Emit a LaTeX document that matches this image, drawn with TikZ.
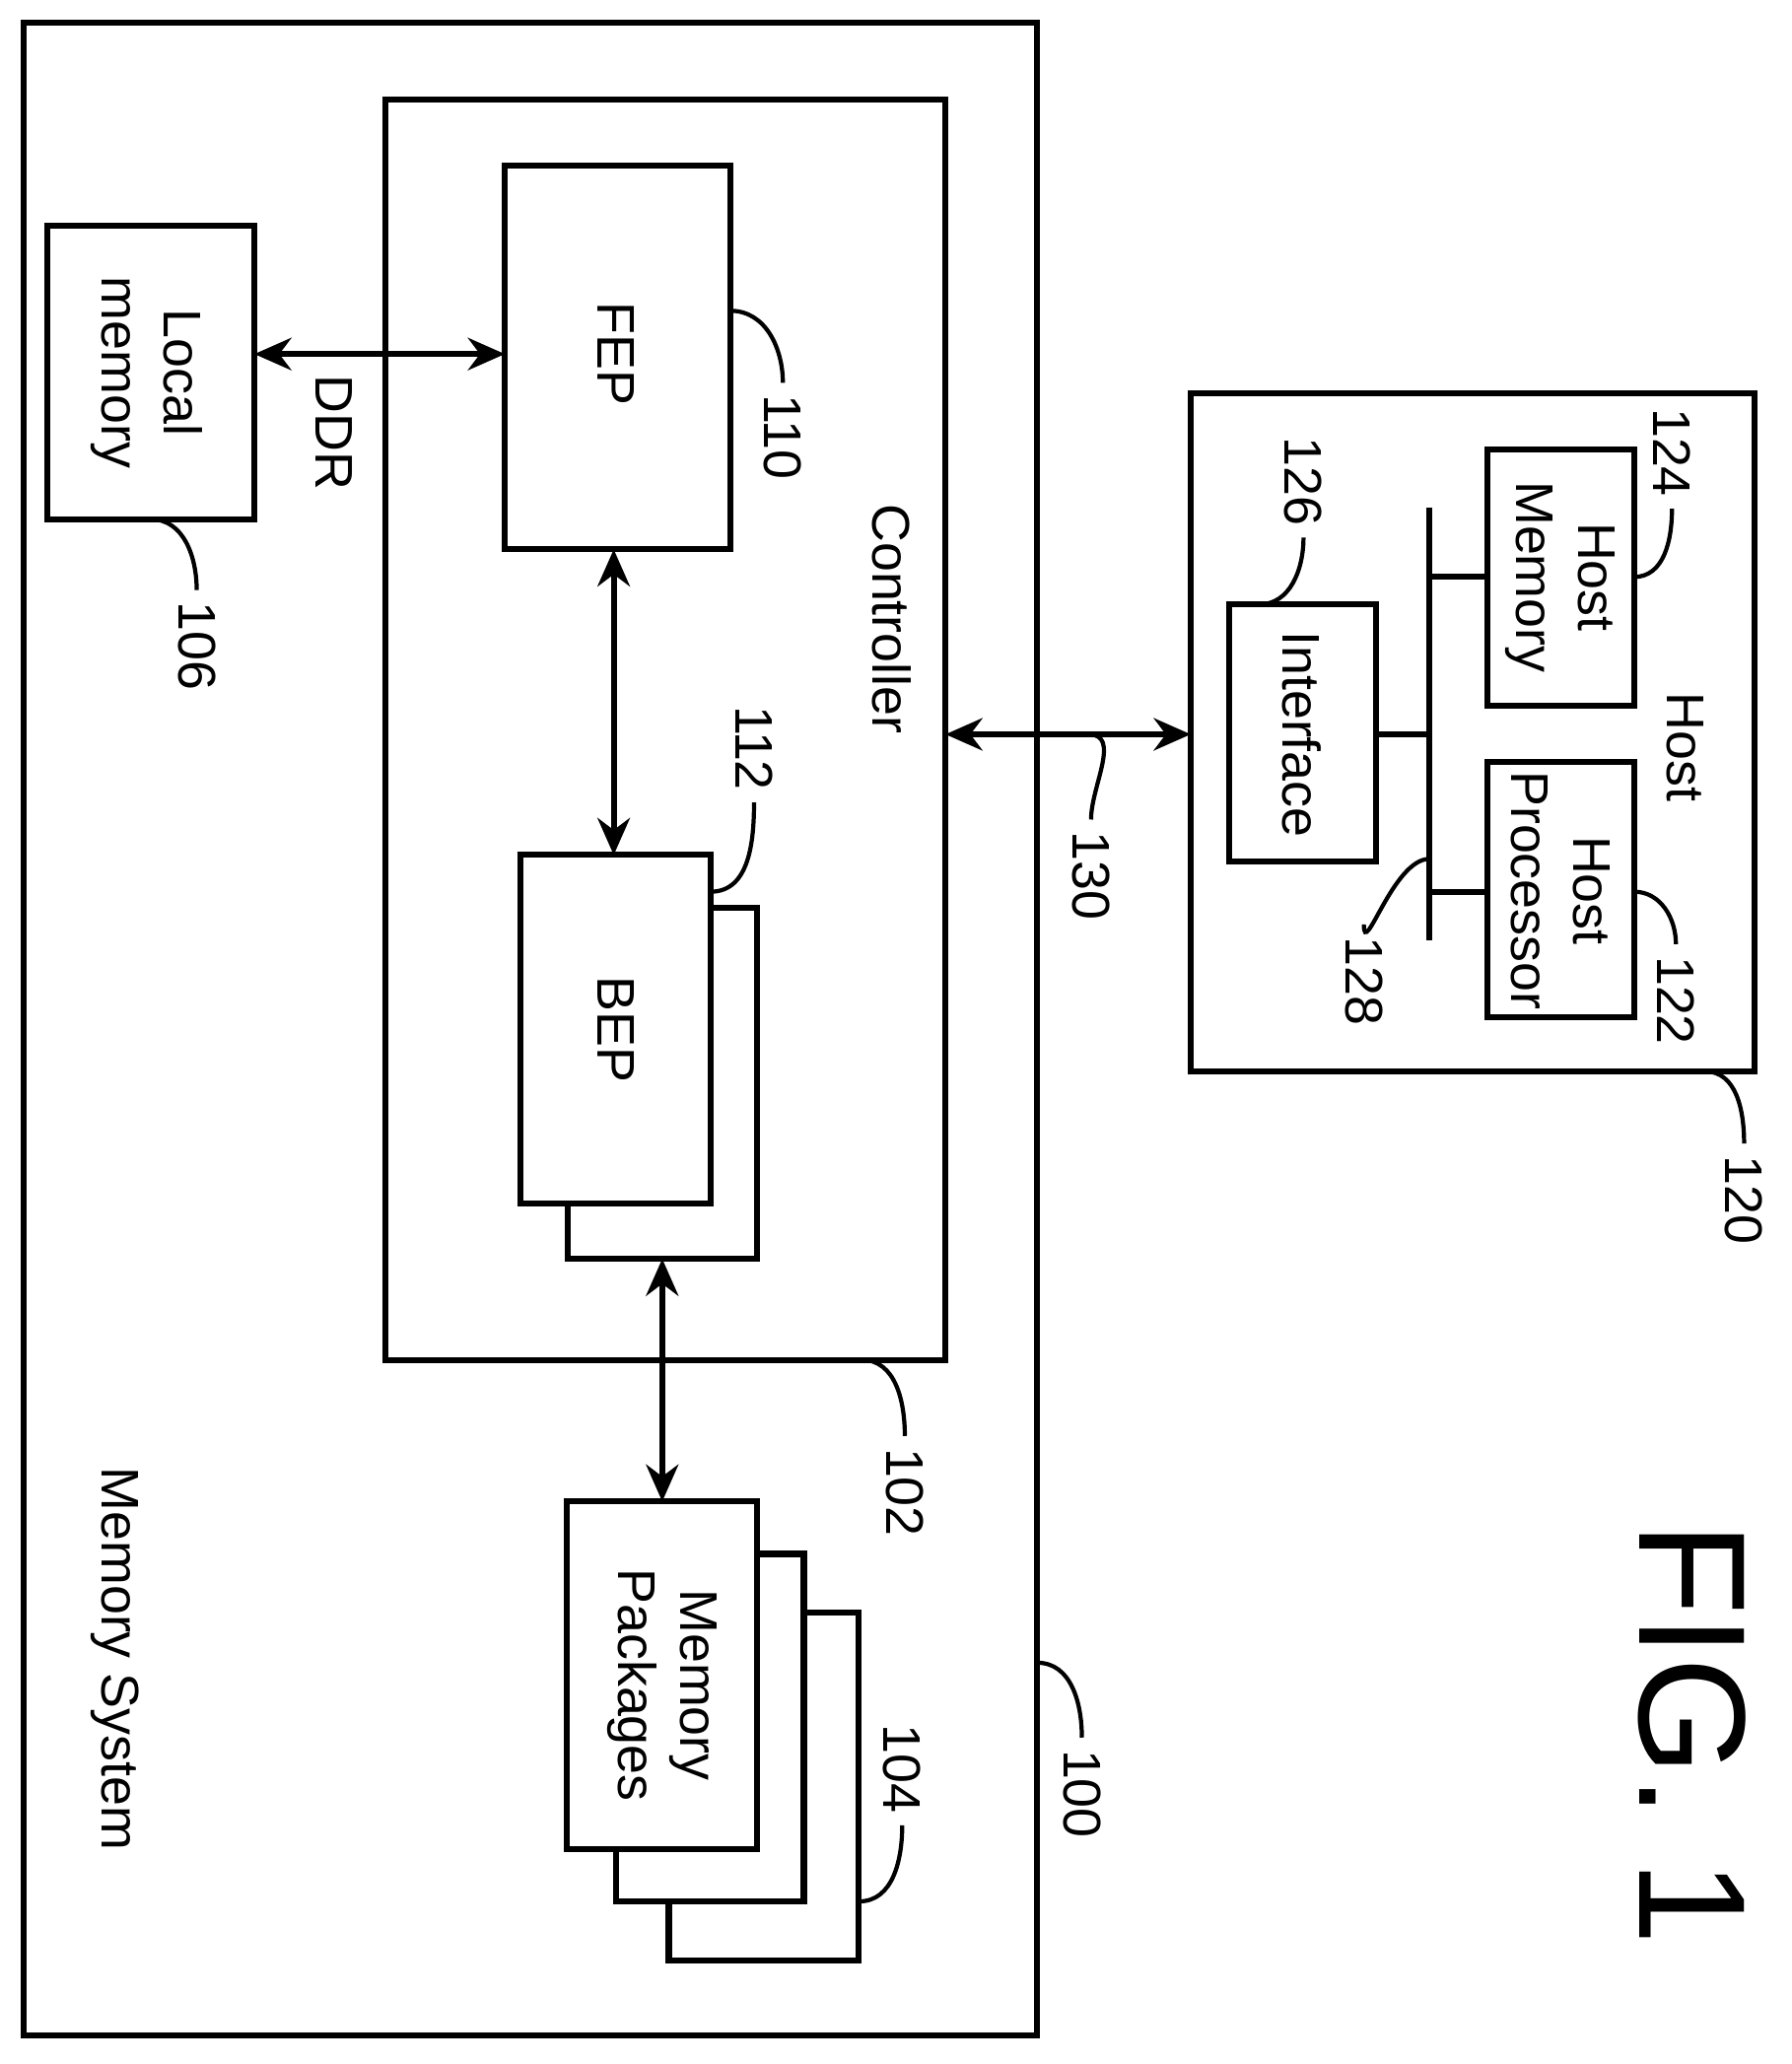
\documentclass[tikz,border=0pt]{standalone}
\usepackage{fontspec}
\setmainfont{Liberation Sans}
\usetikzlibrary{arrows.meta}
\begin{document}
\begin{tikzpicture}[x=0.01cm,y=-0.01cm,
  box/.style={draw,line width=1.3pt,fill=white},
  txt/.style={rotate=-90,align=center,font=\fontsize{11.5}{13.5}\selectfont},
  lab/.style={rotate=-90,anchor=west,inner sep=1pt,font=\fontsize{11.5}{13.5}\selectfont},
  labu/.style={rotate=-90,anchor=east,inner sep=1pt,font=\fontsize{11.5}{13.5}\selectfont},
  lead/.style={line width=0.9pt},
  arr/.style={line width=1.3pt,{Stealth[length=8pt,width=7pt]}-{Stealth[length=8pt,width=7pt]}},
  ln/.style={line width=1.3pt}]
\useasboundingbox (0,0) rectangle (1366,1574);
\draw[box] (18,17) rectangle (791,1552);
\node[txt] (ms) at (88,1265) {Memory System};
\draw[box] (294,76) rectangle (721,1037);
\node[txt] (ctl) at (680,472) {Controller};
\draw[box] (385,126) rectangle (557,419);
\node[txt] (fep) at (470,270) {FEP};
\draw[box] (36,172) rectangle (194,396);
\node[txt] (lm) at (112,284) {Local\\memory};
\draw[box] (433,692) rectangle (577,960);
\draw[box] (397,652) rectangle (542,918);
\node[txt] (bep) at (470,785) {BEP};
\draw[box] (510,1230) rectangle (655,1495);
\draw[box] (470,1185) rectangle (613,1450);
\draw[box] (432,1145) rectangle (577,1410);
\node[txt] (mp) at (505,1285) {Memory\\Packages};
\coordinate (a1) at (194,270); \coordinate (a2) at (385,270);
\draw[arr] (a1) -- (a2);
\node[txt] (ddr) at (255,330) {DDR};
\coordinate (b1) at (468,419); \coordinate (b2) at (468,652);
\draw[arr] (b1) -- (b2);
\coordinate (c1) at (505,960); \coordinate (c2) at (505,1145);
\draw[arr] (c1) -- (c2);
% host
\draw[box] (908,300) rectangle (1338,817);
\node[txt] (host) at (1285,570) {Host};
\draw[box] (1134,343) rectangle (1246,538);
\node[txt] (hm) at (1190,440) {Host\\Memory};
\draw[box] (1134,581) rectangle (1246,776);
\node[txt] (hp) at (1190,679) {Host\\Processor};
\draw[box] (937,461) rectangle (1049,657);
\node[txt] (if) at (993,560) {Interface};
\coordinate (bt) at (1090,387); \coordinate (bb) at (1090,717);
\draw[ln] (bt) -- (bb);
\draw[ln] (1090,440) -- (1134,440);
\draw[ln] (1049,560) -- (1090,560);
\draw[ln] (1090,680) -- (1134,680);
\coordinate (d1) at (721,560); \coordinate (d2) at (908,560);
\draw[arr] (d1) -- (d2);
% leaders and labels
\draw[lead] (557,237) to[out=0,in=90] (597,292);
\node[lab] (l110) at (597,297) {110};
\draw[lead] (115,396) to[out=0,in=90] (150,450);
\node[lab] (l106) at (150,455) {106};
\draw[lead] (542,680) to[out=0,in=-90] (575,612);
\node[labu] (l112) at (575,607) {112};
\draw[lead] (657,1037) to[out=0,in=90] (690,1095);
\node[lab] (l102) at (690,1100) {102};
\draw[lead] (791,1268) to[out=0,in=90] (825,1325);
\node[lab] (l100) at (825,1330) {100};
\draw[lead] (655,1450) to[out=0,in=-90] (688,1392);
\node[labu] (l104) at (688,1387) {104};
\draw[lead] (830,560) to[out=0,in=90] (832,625);
\node[lab] (l130) at (832,630) {130};
\draw[lead] (1300,817) to[out=0,in=90] (1330,872);
\node[lab] (l120) at (1330,877) {120};
\draw[lead] (1246,680) to[out=0,in=90] (1278,720);
\node[lab] (l122) at (1278,725) {122};
\draw[lead] (1246,440) to[out=0,in=-90] (1275,388);
\node[labu] (l124) at (1275,383) {124};
\draw[lead] (960,461) to[out=0,in=-90] (994,410);
\node[labu] (l126) at (994,405) {126};
\draw[lead] (1090,655) to[out=180,in=-90] (1040,705);
\node[lab] (l128) at (1040,710) {128};
\node[rotate=-90,font=\fontsize{33}{36}\selectfont] (fig) at (1290,1322) {FIG. 1};
\end{tikzpicture}
\end{document}
